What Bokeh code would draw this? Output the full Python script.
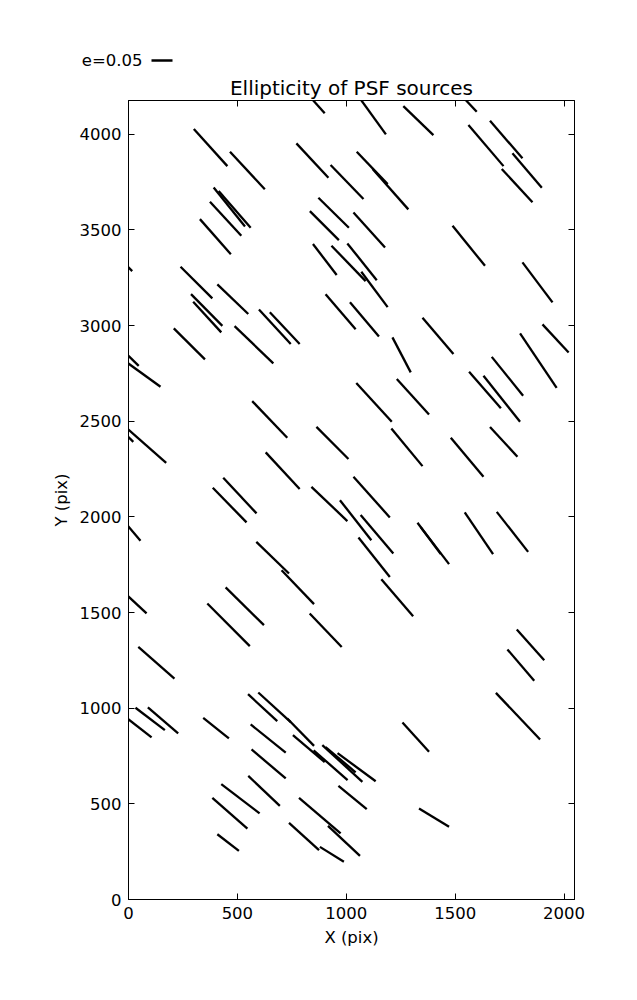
from bokeh.plotting import figure
from bokeh.models import Range1d, LinearAxis, FixedTicker, ColumnDataSource
from bokeh.layouts import column
from bokeh.core.properties import value
from bokeh.embed import file_html
from bokeh.resources import INLINE

# whisker end points (CCD pixel coordinates)
x0 = [781, 1048, 1262, 1489, 300, 466, 771, 928, 1048, 1121,
      1561, 1660, 1763, 1714, 391, 414, 872, 374, 328, 833,
      1033, 1488, 847, 932, 1005, 1069, 1809, -46, 239, 408,
      287, 905, 297, 208, 487, 599, 649, 1017, 1350, 1212,
      1901, 1798, 1668, 1564, 1630, -37, -28, 1046, 1232, 568,
      863, 1207, 1480, 1660, -18, -28, 630, 435, 387, 840,
      1033, 971, 1066, 1327, 1342, 1544, 1691, -37, 587, 703,
      1056, 446, 1161, -37, 362, 832, 1783, 1740, 45, 549,
      596, 729, 1687, 32, 89, -37, 343, 561, 565, 755,
      850, 890, 960, 905, 1258, 550, 426, 964, 385, 783,
      1334, 408, 737, 879, 916]
y0 = [4262, 4210, 4147, 4251, 4027, 3908, 3952, 3839, 3908, 3818,
      4048, 4070, 3900, 3818, 3721, 3703, 3668, 3647, 3556, 3598,
      3591, 3521, 3426, 3417, 3429, 3281, 3330, 3358, 3307, 3215,
      3164, 3164, 3124, 2985, 2997, 3084, 3069, 3121, 3040, 2938,
      3006, 2959, 2836, 2758, 2737, 2882, 2824, 2700, 2720, 2605,
      2470, 2462, 2413, 2470, 2474, 2448, 2337, 2204, 2152, 2157,
      2209, 2087, 2009, 1969, 1946, 2023, 2026, 1998, 1869, 1721,
      1892, 1631, 1674, 1622, 1547, 1495, 1411, 1307, 1320, 1073,
      1082, 946, 1080, 1002, 1004, 974, 949, 915, 784, 859,
      780, 807, 765, 796, 925, 646, 603, 594, 531, 531,
      476, 341, 400, 275, 385]
x1 = [901, 1182, 1400, 1599, 454, 626, 918, 1079, 1190, 1285,
      1722, 1809, 1898, 1855, 535, 561, 1012, 518, 470, 966,
      1178, 1637, 956, 1089, 1140, 1190, 1947, 17, 385, 550,
      431, 1043, 426, 351, 665, 745, 786, 1150, 1492, 1296,
      2021, 1966, 1812, 1710, 1798, 47, 147, 1209, 1380, 729,
      1010, 1350, 1630, 1786, 173, 22, 786, 588, 542, 1005,
      1200, 1115, 1216, 1434, 1472, 1674, 1835, 55, 737, 852,
      1200, 622, 1307, 83, 557, 979, 1909, 1863, 211, 683,
      745, 852, 1890, 167, 228, 106, 461, 722, 722, 901,
      1006, 1074, 1135, 1043, 1380, 695, 602, 1094, 546, 974,
      1472, 507, 875, 989, 1063]
y1 = [4109, 3999, 3995, 4117, 3833, 3712, 3772, 3661, 3739, 3607,
      3833, 3874, 3720, 3644, 3517, 3511, 3511, 3469, 3373, 3446,
      3408, 3312, 3264, 3232, 3237, 3096, 3121, 3284, 3142, 3060,
      2998, 2981, 2964, 2823, 2802, 2903, 2903, 2943, 2851, 2755,
      2859, 2674, 2633, 2567, 2497, 2789, 2680, 2497, 2535, 2413,
      2302, 2265, 2209, 2314, 2282, 2392, 2145, 2018, 1971, 1978,
      1997, 1878, 1809, 1805, 1753, 1805, 1817, 1875, 1704, 1544,
      1686, 1434, 1481, 1495, 1324, 1320, 1251, 1143, 1155, 932,
      927, 803, 836, 885, 868, 847, 842, 768, 633, 718,
      624, 615, 618, 665, 772, 489, 450, 472, 371, 345,
      380, 254, 258, 197, 228]

x_ticks = [0, 500, 1000, 1500, 2000]
y_ticks = [0, 500, 1000, 1500, 2000, 2500, 3000, 3500, 4000]
key_label = "e=0.05"
title = "Ellipticity of PSF sources"
x_label = "X (pix)"
y_label = "Y (pix)"

FONT = "DejaVu Sans"
FS = "16.5px"
W = 628

# ---- quiver key strip above the main plot ----
KEY_H = 70
leg = figure(width=W, height=KEY_H, x_range=Range1d(0, W), y_range=Range1d(0, KEY_H),
             output_backend="svg", toolbar_location=None, x_axis_type=None, y_axis_type=None,
             min_border_left=0, min_border_right=0, min_border_top=0, min_border_bottom=0)
leg.frame_align = False
leg.grid.visible = False
leg.outline_line_color = None
leg.background_fill_color = "white"
leg.border_fill_color = "white"
leg.text(x=[142], y=[10], text=[key_label], text_align="right", text_baseline="middle",
         text_font=value(FONT), text_font_size=value(FS), text_color="black")
leg.segment(x0=[151], y0=[10], x1=[172], y1=[10], line_color="black", line_width=2.3,
            line_cap="butt")

# ---- main plot ----
p = figure(width=W, height=992 - KEY_H, x_range=Range1d(0, 2048), y_range=Range1d(0, 4176),
           output_backend="svg", toolbar_location=None,
           min_border_left=128, min_border_right=54, min_border_top=100 - KEY_H,
           min_border_bottom=93)
p.frame_align = False
p.grid.visible = False
p.outline_line_color = "black"
p.outline_line_width = 1
p.outline_line_alpha = 1
p.background_fill_color = "white"
p.border_fill_color = "white"

src = ColumnDataSource(dict(x0=x0, y0=y0, x1=x1, y1=y1))
p.segment(x0="x0", y0="y0", x1="x1", y1="y1", source=src,
          line_color="black", line_width=2.3, line_cap="butt")


def style_axis(ax, ticks, label=None, show_labels=True):
    ax.ticker = FixedTicker(ticks=ticks)
    ax.major_tick_in = 6
    ax.major_tick_out = 0
    ax.minor_tick_in = 0
    ax.minor_tick_out = 0
    ax.axis_line_color = "black"
    ax.major_tick_line_color = "black"
    ax.major_label_text_font = FONT
    ax.major_label_text_font_size = FS
    ax.major_label_text_color = "black"
    if show_labels:
        ax.major_label_standoff = 7
        ax.axis_label = label
        ax.axis_label_text_font = FONT
        ax.axis_label_text_font_size = FS
        ax.axis_label_text_font_style = "normal"
        ax.axis_label_text_color = "black"
        ax.axis_label_standoff = 6
    else:
        ax.major_label_overrides = {t: "" for t in ticks}
        ax.major_label_standoff = 0


style_axis(p.xaxis[0], x_ticks, x_label)
style_axis(p.yaxis[0], y_ticks, y_label)
top_ax = LinearAxis()
right_ax = LinearAxis()
style_axis(top_ax, x_ticks, show_labels=False)
style_axis(right_ax, y_ticks, show_labels=False)
p.add_layout(top_ax, "above")
p.add_layout(right_ax, "right")

p.title.text = title
p.title.align = "center"
p.title.text_font = FONT
p.title.text_font_size = "20px"
p.title.text_font_style = "normal"
p.title.text_color = "black"
p.title.standoff = 2

layout = column(leg, p, spacing=0)
open("out.html", "w").write(file_html(layout, INLINE))
